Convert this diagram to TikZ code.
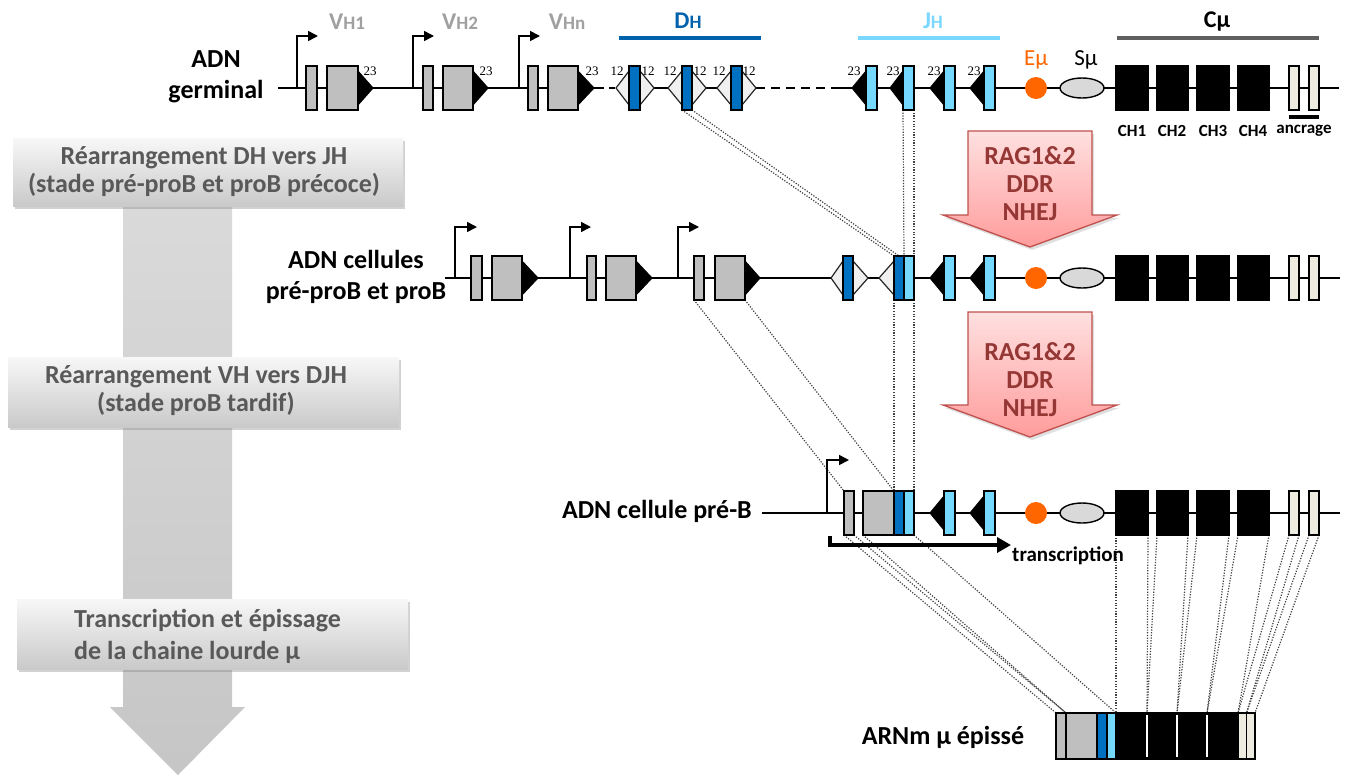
\documentclass[tikz,border=0pt]{standalone}
\usepackage{fontspec}
\setmainfont{Carlito}
\newfontfamily\numfont{Liberation Serif}
\usetikzlibrary{arrows.meta,shapes.geometric,shadows}
\definecolor{vgray}{HTML}{BFBFBF}
\definecolor{dblue}{HTML}{0070C0}
\definecolor{lblue}{HTML}{75D9FF}
\definecolor{dlab}{HTML}{0062AC}
\definecolor{jlab}{HTML}{7AD7FF}
\definecolor{trig}{HTML}{F0F0F0}
\definecolor{eorange}{HTML}{FF6600}
\definecolor{sgray}{HTML}{D9D9D9}
\definecolor{anc}{HTML}{EEECE1}
\definecolor{vlab}{HTML}{A0A0A0}
\definecolor{cbar}{HTML}{606060}
\definecolor{boxtext}{HTML}{595959}
\definecolor{ragtext}{HTML}{953735}
\definecolor{ragdraw}{HTML}{C0504D}
\definecolor{ragtop}{HTML}{FFE0E0}
\definecolor{ragbot}{HTML}{FF9C9C}
\pgfdeclarelayer{back}
\pgfdeclarelayer{bg}
\pgfsetlayers{back,bg,main}
\newcommand\segnode[5]{\node[segbase,#5,minimum width={(#3)-(#2)}] (#1) at ({((#2)+(#3))/2},#4) {};}
\newcommand\btri[3]{\draw[btri] (#1,{#3-17}) -- (#2,#3) -- (#1,{#3+17}) -- cycle;}
\newcommand\ltri[3]{\draw[ltri] (#1,{#3-17}) -- (#2,#3) -- (#1,{#3+17}) -- cycle;}
\newcommand\crow[2]{%
  \btri{944}{930}{#2}\segnode{#1j3}{944}{955}{#2}{lbl}
  \btri{984}{970}{#2}\segnode{#1j4}{984}{995}{#2}{lbl}
  \node[eo] (#1em) at (1036,#2) {};
  \node[smu] (#1sm) at (1082,#2) {};
  \segnode{#1c1}{1116}{1148}{#2}{ch}
  \segnode{#1c2}{1157}{1188}{#2}{ch}
  \segnode{#1c3}{1197}{1229}{#2}{ch}
  \segnode{#1c4}{1238}{1269}{#2}{ch}
  \segnode{#1a1}{1289}{1299}{#2}{an}
  \segnode{#1a2}{1309}{1319}{#2}{an}}
\begin{document}
\begin{tikzpicture}[x=1pt,y=-1pt,
  dna/.style={line width=1.8pt},
  segbase/.style={draw=black, line width=1.6pt, rectangle, inner sep=0pt, outer sep=0pt, minimum height=44pt},
  vg/.style={fill=vgray},
  dbl/.style={fill=dblue},
  lbl/.style={fill=lblue},
  ch/.style={fill=black},
  an/.style={fill=anc},
  btri/.style={fill=black, draw=black, line width=1pt},
  ltri/.style={fill=trig, draw=black!85, line width=1.2pt},
  eo/.style={circle, fill=eorange, minimum size=22pt, inner sep=0pt},
  smu/.style={ellipse, draw=black, line width=1.4pt, fill=sgray, minimum width=44pt, minimum height=20pt, inner sep=0pt},
  promo/.style={line width=1.6pt, -{Triangle[length=10pt,width=10pt]}},
  num/.style={font=\numfont\fontsize{13}{13}\selectfont, inner sep=0pt},
  conn/.style={draw=black!75, line width=1.2pt, dash pattern=on 1.2pt off 1.5pt},
  rowlab/.style={font=\bfseries\fontsize{26}{31}\selectfont, align=center, inner sep=0pt},
  stepbox/.style={draw=none, top color=gray!6, bottom color=gray!42, inner sep=0pt,
     drop shadow={shadow xshift=2pt, shadow yshift=-3pt, opacity=0.35}},
  steptext/.style={font=\bfseries\fontsize{26}{28}\selectfont, text=boxtext, align=center, inner sep=0pt},
  toplab/.style={font=\bfseries\fontsize{24}{24}\selectfont, inner sep=0pt},
  clab/.style={font=\bfseries\fontsize{17}{17}\selectfont, inner sep=0pt},
  ragarrow/.style={draw=ragdraw, line width=1.3pt, top color=ragtop, bottom color=ragbot,
     drop shadow={shadow xshift=2pt, shadow yshift=-3pt, opacity=0.25}},
  ragtxt/.style={font=\bfseries\fontsize{26}{28}\selectfont, text=ragtext, align=center, inner sep=0pt},
  tarrow/.style={line width=4pt, -{Triangle[length=14pt,width=15pt]}},
  bigarrow/.style={top color=gray!28, bottom color=gray!45, draw=none}
]
\useasboundingbox (0,0) rectangle (1359,780);
\begin{pgfonlayer}{back}
\fill[white] (0,0) rectangle (1359,780);
\end{pgfonlayer}

% ---------- left process column ----------
\path[bigarrow] (123,165) -- (232,165) -- (232,707) -- (245,707) -- (178,775) -- (110,707) -- (123,707) -- cycle;
\node[stepbox, minimum width=390pt, minimum height=68pt] (s1) at (208,172) {};
\node[steptext] (s1t) at (204,172) {Réarrangement DH vers JH\\(stade pré-proB et proB précoce)};
\node[stepbox, minimum width=391pt, minimum height=70pt] (s2) at (203.5,392) {};
\node[steptext] (s2t) at (196,391) {Réarrangement VH vers DJH\\(stade proB tardif)};
\node[stepbox, minimum width=391pt, minimum height=70pt] (s3) at (212.5,634) {};
\node[steptext, align=left, anchor=west, font=\bfseries\fontsize{26}{32}\selectfont] (s3t) at (74,636) {Transcription et épissage\\de la chaine lourde μ};

% ---------- RAG arrows ----------
\draw[ragarrow] (968,131) -- (1092,131) -- (1092,215) -- (1117,215) -- (1030,247) -- (943,215) -- (968,215) -- cycle;
\node[ragtxt] (rag1) at (1030,184) {RAG1\&2\\DDR\\NHEJ};
\draw[ragarrow] (968,312) -- (1092,312) -- (1092,405) -- (1117,405) -- (1030,437) -- (943,405) -- (968,405) -- cycle;
\node[ragtxt] (rag2) at (1030,380) {RAG1\&2\\DDR\\NHEJ};

% ---------- row 1 : germinal ----------
\node[rowlab] (lab1) at (216,77) {ADN\\germinal};
\node[toplab, text=vlab] (lv1) at (347,22) {V{\fontsize{19}{19}\selectfont H1}};
\node[toplab, text=vlab] (lv2) at (460,22) {V{\fontsize{19}{19}\selectfont H2}};
\node[toplab, text=vlab] (lvn) at (567,22) {V{\fontsize{19}{19}\selectfont Hn}};
\node[toplab, text=dlab] (ld) at (688,21) {D{\fontsize{19}{19}\selectfont H}};
\node[toplab, text=jlab] (lj) at (933,21) {J{\fontsize{19}{19}\selectfont H}};
\node[toplab] (lc) at (1217,22) {Cμ};
\draw[line width=4pt, dlab] (619,38) -- (761,38);
\draw[line width=4pt, jlab] (858,38) -- (1000,38);
\draw[line width=4pt, cbar] (1117,38) -- (1319,38);
\node[font=\fontsize{23}{23}\selectfont, text=eorange, inner sep=0pt] (lem) at (1036,60) {Eμ};
\node[font=\fontsize{23}{23}\selectfont, inner sep=0pt] (lsm) at (1086,60) {Sμ};

\coordinate (r1a) at (278,88); \coordinate (r1b) at (598,88); \coordinate (r1c) at (616,88);
\coordinate (r1d) at (756,88); \coordinate (r1e) at (836,88); \coordinate (r1f) at (1339,88);
\draw[dna] (r1a) -- (r1b);
\draw[dna, dash pattern=on 6pt off 5pt] (r1b) -- (r1c);
\draw[dna] (r1c) -- (r1d);
\draw[dna, dash pattern=on 9pt off 6pt] (r1d) -- (r1e);
\draw[dna] (r1e) -- (r1f);

\draw[promo] (297,88) -- (297,36) -- (318,36);
\draw[promo] (413,88) -- (413,36) -- (434,36);
\draw[promo] (519,88) -- (519,36) -- (540,36);
\segnode{r1v1s}{306}{317}{88}{vg}\segnode{r1v1b}{327}{358}{88}{vg}\btri{358}{373}{88}
\segnode{r1v2s}{423}{433}{88}{vg}\segnode{r1v2b}{443}{473}{88}{vg}\btri{473}{488}{88}
\segnode{r1v3s}{528}{538}{88}{vg}\segnode{r1v3b}{548}{578}{88}{vg}\btri{578}{594}{88}
\ltri{629}{616}{88}\ltri{640}{654}{88}\segnode{r1d1}{629}{640}{88}{dbl}
\ltri{682}{668}{88}\ltri{692}{706}{88}\segnode{r1d2}{682}{692}{88}{dbl}
\ltri{731}{717}{88}\ltri{742}{756}{88}\segnode{r1d3}{731}{742}{88}{dbl}
\btri{866}{852}{88}\segnode{r1j1}{866}{877}{88}{lbl}
\btri{903}{890}{88}\segnode{r1j2}{903}{914}{88}{lbl}
\crow{r1}{88}
\foreach \x/\n in {370/a,486/b,592/c,854/d,893/e,934/f,974/g} \node[num] (n23\n) at (\x,71) {23};
\foreach \x/\n in {617/a,648/b,670/c,700/d,719/e,749/f} \node[num] (n12\n) at (\x,71) {12};
\draw[line width=3.5pt] (1289,117) -- (1319,117);
\node[clab] (lch1) at (1132,131) {CH1};
\node[clab] (lch2) at (1172,131) {CH2};
\node[clab] (lch3) at (1213,131) {CH3};
\node[clab] (lch4) at (1253,131) {CH4};
\node[clab] (lanc) at (1304,131) {ancrage};

% ---------- row 2 : pre-proB / proB ----------
\node[rowlab] (lab2) at (356,277) {ADN cellules\\pré-proB et proB};
\coordinate (r2a) at (445,278); \coordinate (r2f) at (1340,278);
\draw[dna] (r2a) -- (r2f);
\draw[promo] (455,278) -- (455,227) -- (477,227);
\draw[promo] (570,278) -- (570,227) -- (591,227);
\draw[promo] (678,278) -- (678,227) -- (699,227);
\segnode{r2v1s}{471}{482}{278}{vg}\segnode{r2v1b}{492}{522}{278}{vg}\btri{522}{538}{278}
\segnode{r2v2s}{587}{596}{278}{vg}\segnode{r2v2b}{606}{636}{278}{vg}\btri{636}{652}{278}
\segnode{r2v3s}{694}{704}{278}{vg}\segnode{r2v3b}{715}{745}{278}{vg}\btri{745}{760}{278}
\ltri{843}{831}{278}\ltri{853}{868}{278}\segnode{r2d1}{843}{853}{278}{dbl}
\ltri{894}{879}{278}
\segnode{r2djd}{894}{904}{278}{dbl}\segnode{r2djl}{904}{914}{278}{lbl}
\crow{r2}{278}

% ---------- row 3 : pre-B ----------
\node[rowlab, anchor=east] (lab3) at (752,511) {ADN cellule pré-B};
\coordinate (r3a) at (762,513); \coordinate (r3f) at (1340,513);
\draw[dna] (r3a) -- (r3f);
\draw[promo] (827,513) -- (827,460) -- (849,460);
\segnode{r3vs}{844}{854}{513}{vg}\segnode{r3vb}{863}{894}{513}{vg}
\segnode{r3djd}{894}{904}{513}{dbl}\segnode{r3djl}{904}{914}{513}{lbl}
\crow{r3}{513}
\coordinate (ts) at (830,536); \coordinate (tm) at (830,545); \coordinate (te) at (1011,545);
\draw[tarrow] (ts) -- (tm) -- (te);
\node[font=\bfseries\fontsize{21}{21}\selectfont, anchor=west, inner sep=0pt] (tlab) at (1012,556) {transcription};

% ---------- row 4 : mRNA ----------
\node[rowlab] (lab4) at (943,737) {ARNm μ épissé};
\tikzset{segbase/.append style={minimum height=46pt}}
\segnode{mvs}{1056}{1066}{736}{vg}\segnode{mvb}{1066}{1097}{736}{vg}
\segnode{mjd}{1097}{1107}{736}{dbl}\segnode{mjl}{1107}{1116}{736}{lbl}
\segnode{mc1}{1116}{1147}{736}{ch}\segnode{mc2}{1147}{1177}{736}{ch}
\segnode{mc3}{1177}{1207}{736}{ch}\segnode{mc4}{1207}{1238}{736}{ch}
\segnode{ma1}{1238}{1246.5}{736}{an}\segnode{ma2}{1246.5}{1255}{736}{an}
\foreach \m in {mc1,mc2,mc3}
  \draw[white, line width=1.4pt] ([yshift=-2pt]\m.north east) -- ([yshift=2pt]\m.south east);

% ---------- dotted correspondences ----------
\begin{pgfonlayer}{bg}
\draw[conn] (r1d2.south west) -- (r2djd.north west);
\draw[conn] (r1d2.south east) -- ([xshift=5pt]r2djd.north west);
\draw[conn] (r1j2.south west) -- (r2djl.north west);
\draw[conn] (r1j2.south east) -- (r2djl.north east);
\draw[conn] (r2v3s.south west) -- (r3vs.north west);
\draw[conn] (r2v3b.south east) -- (r3vb.north east);
\draw[conn] (r2djd.south west) -- (r3djd.north west);
\draw[conn] (r2djl.south east) -- (r3djl.north east);
\draw[conn] (r3vs.south west) -- (mvs.north west);
\draw[conn] (r3vs.south east) -- (mvs.north east);
\draw[conn] (r3vb.south west) -- (mvb.north west);
\draw[conn] (r3djl.south east) -- (mjl.north east);
\foreach \c in {c1,c2,c3,c4,a1,a2}{
  \draw[conn] (r3\c.south west) -- (m\c.north west);
  \draw[conn] (r3\c.south east) -- (m\c.north east);
}
\end{pgfonlayer}
\end{tikzpicture}
\end{document}
